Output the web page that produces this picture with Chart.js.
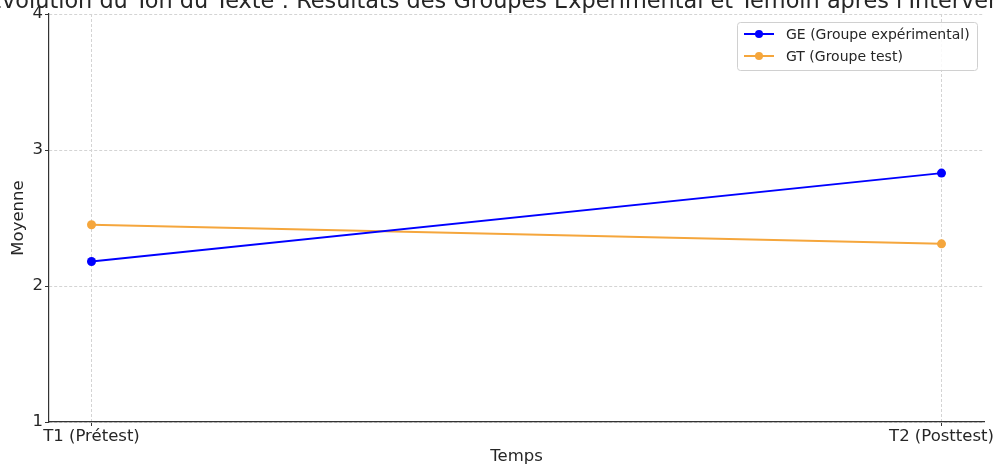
<!DOCTYPE html>
<html>
<head>
<meta charset="utf-8">
<script src="https://cdn.jsdelivr.net/npm/chart.js@4/dist/chart.umd.min.js"></script>
<style>
  html, body { margin: 0; padding: 0; background: #fff; }
  #wrap { width: 997px; height: 464px; }
</style>
</head>
<body>
<div id="wrap"><canvas id="chart" width="997" height="464"></canvas></div>
<script>
// data
const chartTitle = "Évolution du Ton du Texte : Résultats des Groupes Expérimental et Témoin après l'Intervention";
const timeLabels = ['T1 (Prétest)', 'T2 (Posttest)'];
const timePos = [0, 1];
const geValues = [2.18, 2.83];
const gtValues = [2.45, 2.31];
const yTicks = [1, 2, 3, 4];

const FONT = "'DejaVu Sans', sans-serif";
const BLUE = '#0000ff';
const ORANGE = '#f5a63c';

// title sits partly outside the canvas, like in the source image
const topTitle = {
    id: 'topTitle',
    afterDraw(chart) {
        const ctx = chart.ctx;
        ctx.save();
        ctx.font = '22.4px ' + FONT;
        ctx.fillStyle = '#262626';
        ctx.textAlign = 'center';
        ctx.textBaseline = 'alphabetic';
        ctx.fillText(chartTitle, (chart.chartArea.left + chart.chartArea.right) / 2, 8);
        ctx.restore();
    }
};

// matplotlib-like legend: line with a dot marker
const lineLegend = {
    id: 'lineLegend',
    afterDraw(chart) {
        const ctx = chart.ctx;
        const x0 = 737, y0 = 22, w = 240, h = 48;
        ctx.save();
        ctx.fillStyle = 'rgba(255,255,255,0.85)';
        ctx.strokeStyle = '#d0d0d0';
        ctx.lineWidth = 1;
        ctx.beginPath();
        ctx.roundRect(x0 + 0.5, y0 + 0.5, w, h, 3);
        ctx.fill();
        ctx.stroke();
        ctx.font = '14px ' + FONT;
        ctx.textBaseline = 'middle';
        chart.data.datasets.forEach((ds, i) => {
            const y = y0 + 12 + i * 22;
            ctx.strokeStyle = ds.borderColor;
            ctx.lineWidth = 2;
            ctx.beginPath();
            ctx.moveTo(x0 + 7, y);
            ctx.lineTo(x0 + 37, y);
            ctx.stroke();
            ctx.fillStyle = ds.borderColor;
            ctx.beginPath();
            ctx.arc(x0 + 22, y, 4, 0, Math.PI * 2);
            ctx.fill();
            ctx.fillStyle = '#262626';
            ctx.fillText(ds.label, x0 + 49, y + 1);
        });
        ctx.restore();
    }
};

const ctx = document.getElementById('chart').getContext('2d');
new Chart(ctx, {
    type: 'line',
    data: {
        datasets: [
            {
                label: 'GE (Groupe expérimental)',
                data: timePos.map((x, i) => ({ x: x, y: geValues[i] })),
                borderColor: BLUE,
                backgroundColor: BLUE,
                borderWidth: 2,
                pointRadius: 4.5,
                pointHoverRadius: 4.5,
                pointBorderWidth: 0
            },
            {
                label: 'GT (Groupe test)',
                data: timePos.map((x, i) => ({ x: x, y: gtValues[i] })),
                borderColor: ORANGE,
                backgroundColor: ORANGE,
                borderWidth: 2,
                pointRadius: 4.5,
                pointHoverRadius: 4.5,
                pointBorderWidth: 0
            }
        ]
    },
    options: {
        responsive: false,
        animation: false,
        layout: { padding: { top: 14, right: 13, left: 0, bottom: 0 } },
        plugins: {
            legend: { display: false },
            tooltip: { enabled: false }
        },
        scales: {
            x: {
                type: 'linear',
                min: -0.05,
                max: 1.05,
                afterBuildTicks: (scale) => {
                    scale.ticks = timePos.map(v => ({ value: v }));
                },
                afterFit: (scale) => { scale.height = 42; },
                ticks: {
                    callback: (v) => timeLabels[timePos.indexOf(v)] || '',
                    font: { family: FONT, size: 16.5 },
                    color: '#262626',
                    padding: 1,
                    maxRotation: 0,
                    autoSkip: false
                },
                grid: {
                    color: '#d4d4d4',
                    tickColor: '#333',
                    tickLength: 4,
                    lineWidth: 1
                },
                border: { color: '#333', width: 1.2, dash: [3, 2] },
                title: {
                    display: true,
                    text: 'Temps',
                    font: { family: FONT, size: 16.5 },
                    color: '#262626',
                    padding: { top: 0, bottom: -3 }
                }
            },
            y: {
                min: 1,
                max: 4,
                afterBuildTicks: (scale) => {
                    scale.ticks = yTicks.map(v => ({ value: v }));
                },
                afterFit: (scale) => { scale.width = 49; },
                ticks: {
                    font: { family: FONT, size: 16.5 },
                    color: '#262626',
                    padding: 2
                },
                grid: {
                    color: '#d4d4d4',
                    tickColor: '#333',
                    tickLength: 4,
                    lineWidth: 1
                },
                border: { color: '#333', width: 1.2, dash: [3, 2] },
                title: {
                    display: true,
                    text: 'Moyenne',
                    font: { family: FONT, size: 16.5 },
                    color: '#262626',
                    padding: { top: 9, bottom: 0 }
                }
            }
        }
    },
    plugins: [topTitle, lineLegend]
});
</script>
</body>
</html>
